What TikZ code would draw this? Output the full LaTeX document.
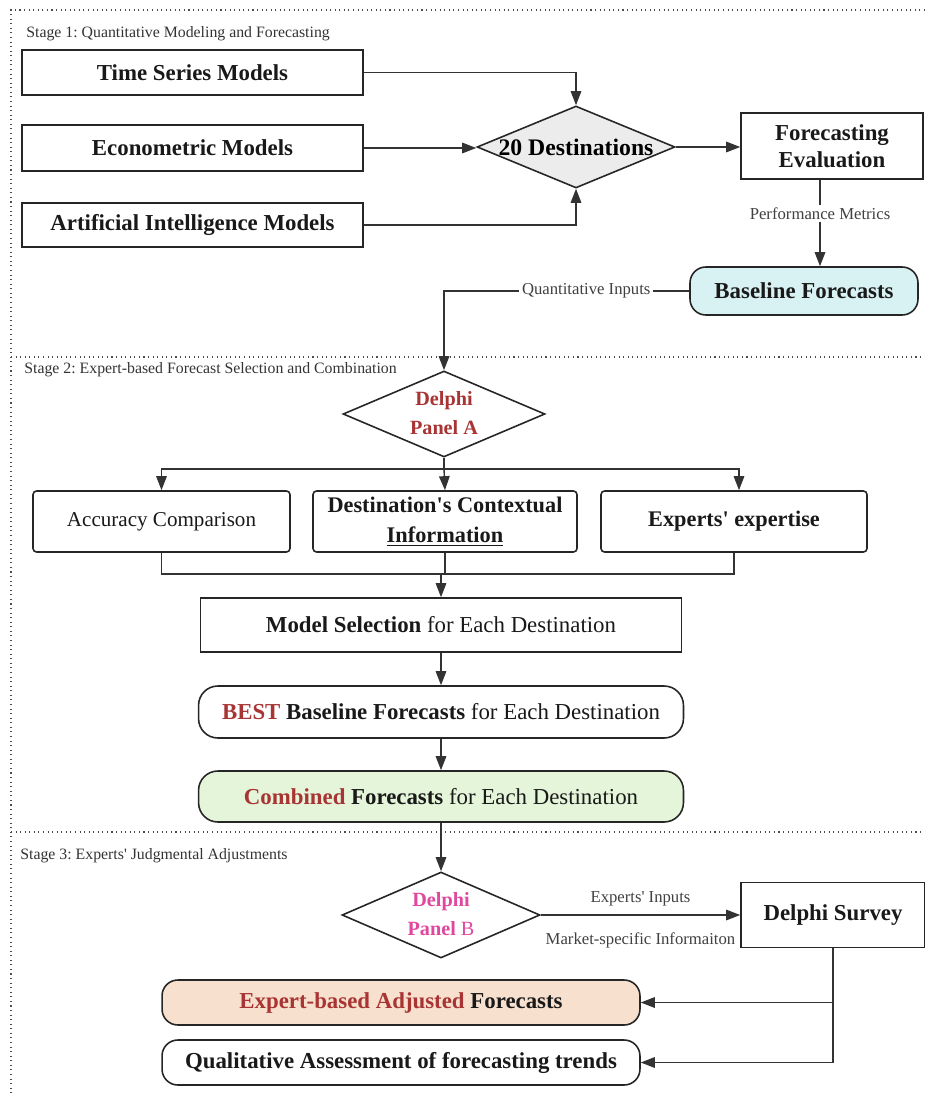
\documentclass[tikz,border=0pt]{standalone}
\usepackage{fontspec}
\setmainfont{Liberation Serif}
\usetikzlibrary{arrows,arrows.meta,shapes.geometric}
\frenchspacing

\definecolor{redtxt}{HTML}{A83434}
\definecolor{pinktxt}{HTML}{E0489F}
\definecolor{cyanfill}{HTML}{D8F1F2}
\definecolor{greenfill}{HTML}{E4F5D9}
\definecolor{peachfill}{HTML}{F7E0CD}
\definecolor{diagray}{HTML}{ECECEC}
\newcommand{\ap}{\textquotesingle}

\begin{document}
\begin{tikzpicture}[x=0.02cm,y=-0.02cm,>={Triangle[length=8pt,width=6pt]},
    box/.style={draw=black!85,line width=0.9pt,inner sep=0pt,align=center,text=black!90,
      font=\fontsize{13}{15.5}\selectfont},
    pill/.style={box,rounded corners=9pt},
    decision/.style={draw=black!85,line width=0.9pt,diamond,inner sep=0pt,align=center},
    link/.style={line width=0.8pt,draw=black!80},
    linklabel/.style={fill=white,inner sep=1.5pt,text=black!75,font=\fontsize{9.5}{11}\selectfont},
    stagelabel/.style={anchor=west,inner sep=0pt,text=black!80,font=\fontsize{9}{11}\selectfont}]
    \useasboundingbox (0,0) rectangle (925,1094);
    % stage frames
    \draw[dotted,black!70,line width=0.6pt] (925,10) -- (11,10) -- (11,1094)
      (11,357) -- (925,357) (11,832) -- (925,832);
    \node[stagelabel] (s1) at (26,34) {Stage 1: Quantitative Modeling and Forecasting};
    \node[stagelabel] (s2) at (24,370) {Stage 2: Expert-based Forecast Selection and Combination};
    \node[stagelabel] (s3) at (20,856) {Stage 3: Experts\ap{} Judgmental Adjustments};

    % stage 1
    \node[box,minimum width=6.82cm,minimum height=0.9cm] (tsm) at (192.5,72.5) {\textbf{Time Series Models}};
    \node[box,minimum width=6.82cm,minimum height=0.92cm] (eco) at (192.5,148) {\textbf{Econometric Models}};
    \node[box,minimum width=6.82cm,minimum height=0.88cm] (aim) at (192.5,225) {\textbf{Artificial Intelligence Models}};
    \node[decision,fill=diagray,minimum width=3.96cm,minimum height=1.64cm,
      font=\fontsize{13.5}{16}\selectfont] (dest) at (576,147) {\makebox[0pt]{\textbf{20 Destinations}}};
    \node[box,minimum width=3.64cm,minimum height=1.32cm] (feval) at (832,146) {\textbf{Forecasting}\\\textbf{Evaluation}};
    \node[pill,fill=cyanfill,minimum width=4.56cm,minimum height=0.96cm] (base) at (804,291) {\textbf{Baseline Forecasts}};

    \draw[link,->] (tsm.east) -| (dest.north);
    \draw[link,->] (eco.east) -- (eco.east -| dest.west);
    \draw[link,->] (aim.east) -| (dest.south);
    \draw[link,->] (dest.east) -- (dest.east -| feval.west);
    \draw[link,->] ([xshift=-0.24cm]feval.south) -- node[linklabel,pos=0.39] {Performance Metrics}
      ([xshift=-0.24cm]feval.south |- base.north);

    % stage 2
    \node[decision,fill=white,minimum width=4.04cm,minimum height=1.72cm,text=redtxt,
      font=\bfseries\fontsize{11.5}{17}\selectfont] (dpa) at (444,414)
      {\makebox[0pt]{\begin{tabular}{@{}c@{}}Delphi\\Panel A\end{tabular}}};
    \draw[link,->] (base.west) -| node[linklabel,pos=0.21] {Quantitative Inputs} (dpa.north);

    \node[box,rounded corners=2pt,minimum width=5.14cm,minimum height=1.22cm,
      font=\fontsize{12}{14}\selectfont] (acc) at (161.5,521.5) {Accuracy Comparison};
    \node[box,rounded corners=2pt,minimum width=5.28cm,minimum height=1.22cm,
      font=\bfseries\fontsize{12.7}{17}\selectfont] (ctx) at (445,521.5) {Destination\ap{}s Contextual\\\underline{Information}};
    \node[box,rounded corners=2pt,minimum width=5.32cm,minimum height=1.22cm,
      font=\bfseries\fontsize{12.7}{15}\selectfont] (expx) at (734,521.5) {Experts\ap{} expertise};

    \coordinate (splitA) at (444,469);
    \coordinate (mergeA) at (441,574);
    \draw[link] (dpa.south) -- (splitA);
    \draw[link,->] (splitA) -| (acc.north);
    \draw[link,->] (splitA) -- (ctx.north);
    \draw[link,->] (splitA) -| ([xshift=0.1cm]expx.north);
    \draw[link] (acc.south) |- (mergeA) -| (expx.south);
    \draw[link] (ctx.south) -- (ctx.south |- mergeA);

    \node[box,minimum width=9.62cm,minimum height=1.08cm] (msel) at (441,625)
      {\textbf{Model Selection} for Each Destination};
    \node[pill,minimum width=9.7cm,minimum height=1.04cm,rounded corners=11pt] (best) at (441,712)
      {\textbf{\textcolor{redtxt}{BEST} Baseline Forecasts} for Each Destination};
    \node[pill,fill=greenfill,minimum width=9.7cm,minimum height=1.02cm,rounded corners=11pt] (comb) at (441,796.5)
      {\textbf{\textcolor{redtxt}{Combined} Forecasts} for Each Destination};

    \draw[link,->] (mergeA) -- (msel.north);
    \draw[link,->] (msel.south) -- (best.north);
    \draw[link,->] (best.south) -- (comb.north);

    % stage 3
    \node[decision,fill=white,minimum width=3.96cm,minimum height=1.72cm,text=pinktxt,
      font=\fontsize{11.5}{17}\selectfont] (dpb) at (441,915)
      {\makebox[0pt]{\begin{tabular}{@{}c@{}}\textbf{Delphi}\\\textbf{Panel} B\end{tabular}}};
    \node[box,minimum width=3.68cm,minimum height=1.3cm] (survey) at (833,915)
      {\textbf{Delphi Survey}};
    \node[pill,fill=peachfill,minimum width=9.56cm,minimum height=0.9cm] (adj) at (401,1002.5)
      {\textbf{\textcolor{redtxt}{Expert-based Adjusted} Forecasts}};
    \node[pill,minimum width=9.56cm,minimum height=0.9cm] (qual) at (401,1062.5)
      {\textbf{Qualitative Assessment of forecasting trends}};

    \draw[link,->] (comb.south) -- (dpb.north);
    \draw[link,->] (dpb.east) -- node[linklabel,above=3pt,fill=none] {Experts\ap{} Inputs}
      node[linklabel,below=8pt,fill=none] {Market-specific Informaiton} (survey.west);
    \draw[link,->] (survey.south) |- (adj.east);
    \draw[link,->] (survey.south) |- (qual.east);
\end{tikzpicture}
\end{document}
